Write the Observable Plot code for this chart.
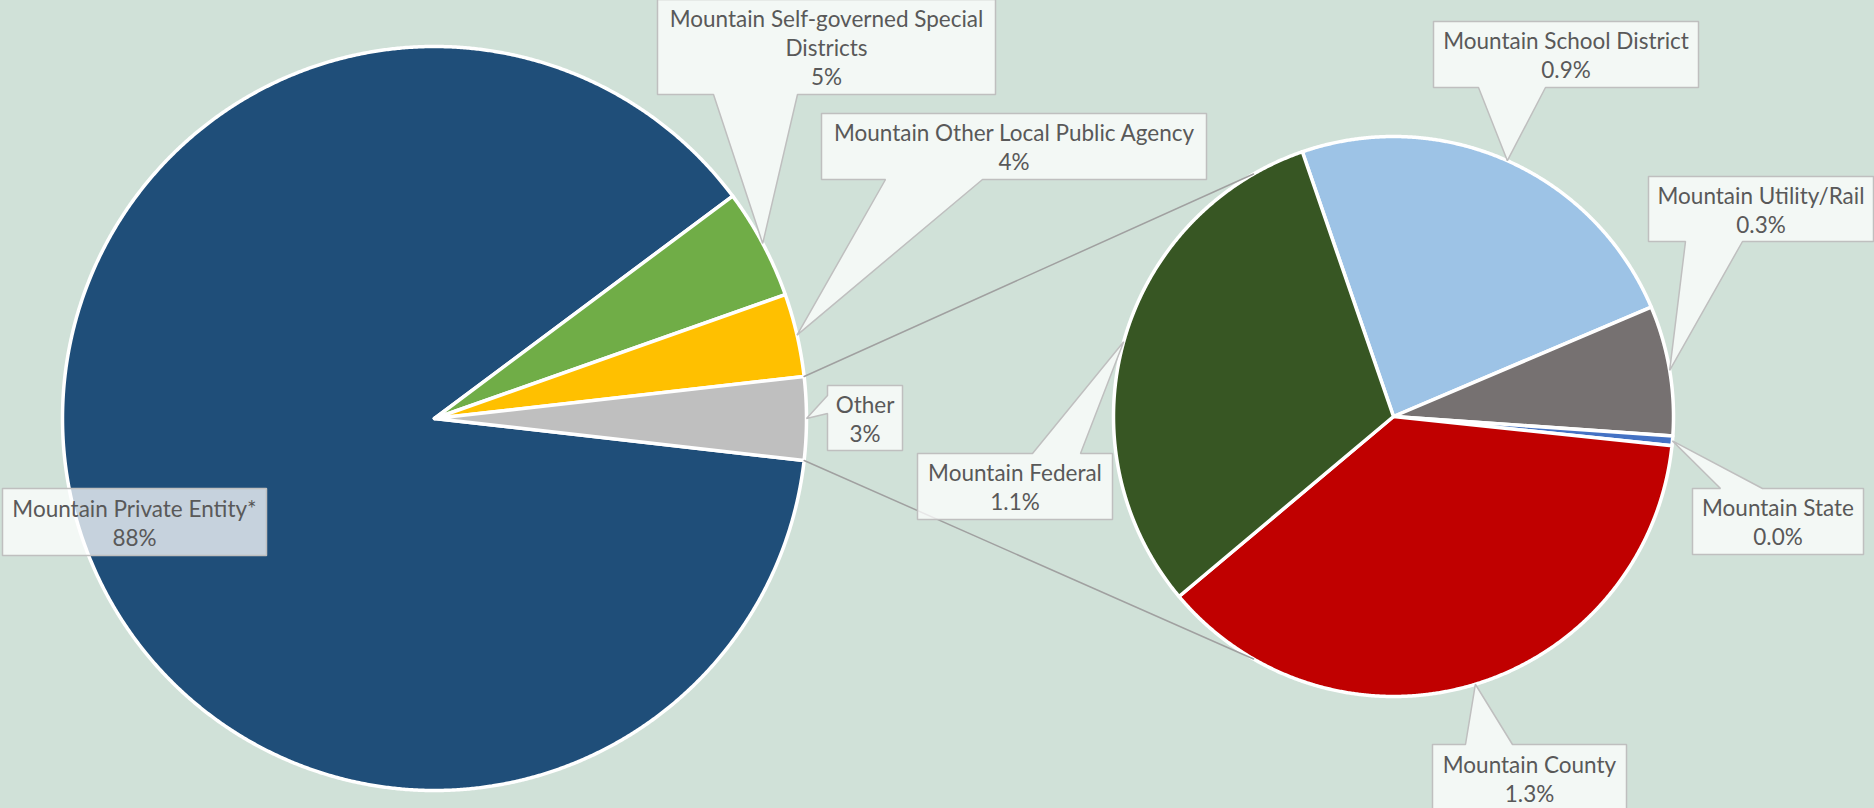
<!DOCTYPE html>
<html><head><meta charset="utf-8">
<script src="https://cdn.jsdelivr.net/npm/d3@7"></script>
<script src="https://cdn.jsdelivr.net/npm/@observablehq/plot@0.6"></script>
<style>
html,body{margin:0;padding:0;background:#d0e1d8;overflow:hidden}
#chart svg{display:block}
</style></head><body><div id="chart"></div>
<script>
// ---------- data ----------
const mainNames  = ["Mountain Private Entity*", "Mountain Self-governed Special\nDistricts", "Mountain Other Local Public Agency", "Other"];
const mainValues = [88.0, 4.8, 3.6, 3.6];
const mainLabels = ["88%", "5%", "4%", "3%"];
const mainColors = ["#1f4e79", "#70ad47", "#ffc000", "#bfbfbf"];

const subNames  = ["Mountain School District", "Mountain Utility/Rail", "Mountain State", "Mountain County", "Mountain Federal"];
const subValues = [0.86, 0.27, 0.02, 1.34, 1.11];
const subLabels = ["0.9%", "0.3%", "0.0%", "1.3%", "1.1%"];
const subColors = ["#9dc3e6", "#767171", "#4472c4", "#c00000", "#375623"];

// ---------- layout ----------
const W = 1874, H = 808;
const deg = Math.PI / 180;
const mainPie = {cx: 434, cy: 418, r: 372};
const subPie  = {cx: 1393, cy: 416, r: 280, start: -19 * deg};
const connectorAngles = [-30 * deg, 210 * deg]; // where connectors meet the secondary pie

// label boxes [x0, y0, x1, y1], pointer side and base span
const mainBoxes = [
  {box: [2, 488, 266, 555], side: null},
  {box: [657, -1, 995, 94], side: "bottom", base: [713, 797]},
  {box: [821, 113, 1206, 179], side: "bottom", base: [885, 982]},
  {box: [827, 385, 902, 450], side: "left", base: [395, 413]}
];
const subBoxes = [
  {box: [1433, 21, 1698, 87], side: "bottom", base: [1478, 1545]},
  {box: [1648, 176, 1873, 241], side: "bottom", base: [1685, 1742]},
  {box: [1692, 488, 1863, 554], side: "top", base: [1720, 1762]},
  {box: [1432, 744, 1626, 812], side: "top", base: [1465, 1512]},
  {box: [917, 453, 1112, 519], side: "top", base: [1032, 1080]}
];

// ---------- geometry from data ----------
const mainTotal = d3.sum(mainValues);
const otherSpan = 2 * Math.PI * mainValues[mainValues.length - 1] / mainTotal;
const mainStart = Math.PI / 2 + otherSpan / 2 - 2 * Math.PI;
const mainArcs = d3.pie().sort(null).startAngle(mainStart).endAngle(mainStart + 2 * Math.PI)(mainValues);
const subArcs = d3.pie().sort(null).startAngle(subPie.start).endAngle(subPie.start + 2 * Math.PI)(subValues);

const pt = (pie, a, rr = pie.r) => [pie.cx + rr * Math.sin(a), pie.cy - rr * Math.cos(a)];

const slicePts = [];
function addSlice(id, pie, a0, a1, fill) {
  slicePts.push({id, x: pie.cx, y: pie.cy, fill});
  const n = Math.max(2, Math.ceil((a1 - a0) / (Math.PI / 720)));
  for (let k = 0; k <= n; k++) {
    const [x, y] = pt(pie, a0 + (a1 - a0) * k / n);
    slicePts.push({id, x, y, fill});
  }
  slicePts.push({id, x: pie.cx, y: pie.cy, fill});
}
mainArcs.forEach((a, i) => addSlice("m" + i, mainPie, a.startAngle, a.endAngle, mainColors[i]));
subArcs.forEach((a, i) => addSlice("s" + i, subPie, a.startAngle, a.endAngle, subColors[i]));

// connectors between the "Other" slice and the secondary pie
const otherArc = mainArcs[mainArcs.length - 1];
const connPts = [];
[[otherArc.startAngle, connectorAngles[0]], [otherArc.endAngle, connectorAngles[1]]].forEach(([am, as], k) => {
  const [x1, y1] = pt(mainPie, am);
  const [x2, y2] = pt(subPie, as);
  connPts.push({id: k, x: x1, y: y1}, {id: k, x: x2, y: y2});
});

// callouts
const calloutPts = [];
const labels = [];
function addCallout(id, spec, tip, text) {
  const [x0, y0, x1, y1] = spec.box;
  const p = [];
  p.push([x0, y0]);
  if (spec.side === "top") p.push([spec.base[0], y0], tip, [spec.base[1], y0]);
  p.push([x1, y0], [x1, y1]);
  if (spec.side === "bottom") p.push([spec.base[1], y1], tip, [spec.base[0], y1]);
  p.push([x0, y1]);
  if (spec.side === "left") p.push([x0, spec.base[1]], tip, [x0, spec.base[0]]);
  p.push([x0, y0]);
  p.forEach(([x, y]) => calloutPts.push({id, x, y}));
  labels.push({x: (x0 + x1) / 2, y: (y0 + y1) / 2, text});
}
mainArcs.forEach((a, i) => {
  const tip = pt(mainPie, (a.startAngle + a.endAngle) / 2);
  addCallout("m" + i, mainBoxes[i], tip, mainNames[i] + "\n" + mainLabels[i]);
});
subArcs.forEach((a, i) => {
  const tip = pt(subPie, (a.startAngle + a.endAngle) / 2);
  addCallout("s" + i, subBoxes[i], tip, subNames[i] + "\n" + subLabels[i]);
});

const chart = Plot.plot({
  width: W, height: H,
  margin: 0,
  x: {domain: [0, W], range: [0, W], axis: null},
  y: {domain: [0, H], range: [0, H], axis: null},
  color: {type: "identity"},
  style: {background: "transparent", overflow: "hidden"},
  marks: [
    Plot.line(slicePts, {x: "x", y: "y", z: "id", fill: "fill", stroke: "white", strokeWidth: 3.5, strokeLinejoin: "round"}),
    Plot.line(connPts, {x: "x", y: "y", z: "id", stroke: "#a0a0a0", strokeWidth: 1.5}),
    Plot.line(calloutPts, {x: "x", y: "y", z: "id", fill: "white", fillOpacity: 0.75, stroke: "#bfbfbf", strokeWidth: 1.5, strokeLinejoin: "miter"}),
    Plot.text(labels, {x: "x", y: "y", text: "text", fontSize: 22.5, lineHeight: 1.29, fill: "#595959", fontFamily: "Lato", lineAnchor: "middle", textAnchor: "middle"})
  ]
});
document.getElementById("chart").appendChild(chart);
</script>
</body></html>
